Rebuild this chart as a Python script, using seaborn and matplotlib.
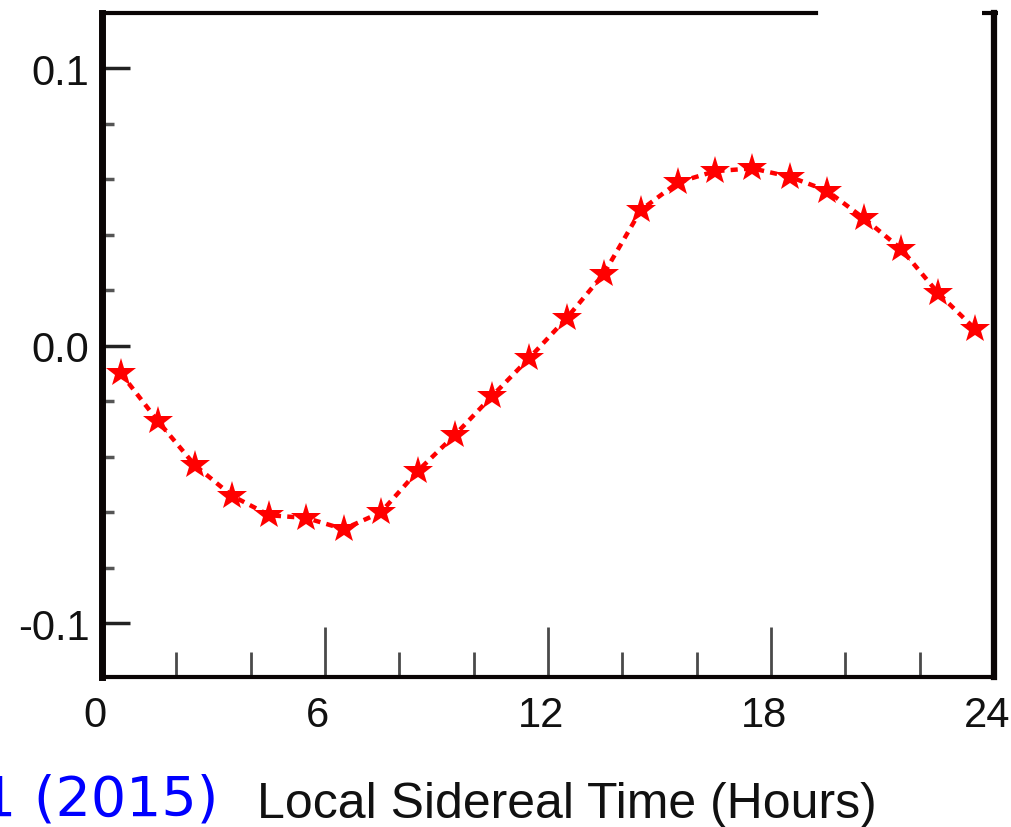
import numpy as np
import pandas as pd
import matplotlib
matplotlib.use("Agg")
import matplotlib.pyplot as plt
import matplotlib.transforms as mtransforms
import seaborn as sns
from matplotlib.ticker import FixedLocator, FixedFormatter

# ---- data ----
hours = [0.5, 1.5, 2.5, 3.5, 4.5, 5.5, 6.5, 7.5, 8.5, 9.5, 10.5, 11.5,
         12.5, 13.5, 14.5, 15.5, 16.5, 17.5, 18.5, 19.5, 20.5, 21.5, 22.5, 23.5]
amplitude = [-0.0097, -0.027, -0.043, -0.054, -0.061, -0.062, -0.066, -0.060,
             -0.045, -0.032, -0.018, -0.0043, 0.010, 0.026, 0.049, 0.059,
             0.063, 0.064, 0.061, 0.056, 0.046, 0.035, 0.019, 0.006]
xtick_values = [0, 6, 12, 18, 24]
xtick_labels = ["0", "6", "12", "18", "24"]
xminor_values = [2, 4, 8, 10, 14, 16, 20, 22]
ytick_values = [-0.1, 0.0, 0.1]
ytick_labels = ["-0.1", "0.0", "0.1"]
yminor_values = [-0.08, -0.06, -0.04, -0.02, 0.02, 0.04, 0.06, 0.08]
xlabel_text = "Local Sidereal Time (Hours)"
caption_text = "1 (2015)"

df = pd.DataFrame({"LST": hours, "amp": amplitude})

sns.set_theme(style="white")
plt.rcParams["font.family"] = ["Liberation Sans", "DejaVu Sans"]

fig = plt.figure(figsize=(10.12, 8.28), dpi=100)
ax = fig.add_axes([102 / 1012, 1 - 678 / 828, 892 / 1012, 664 / 828])

sns.lineplot(data=df, x="LST", y="amp", ax=ax, color="#ff0000",
             linewidth=3.2, linestyle=(0, (1.6, 1.4)),
             marker="*", markersize=22, markeredgewidth=0,
             markerfacecolor="#ff0000")

ax.set_xlim(0, 24)
ax.set_ylim(-0.1193, 0.12)

ax.xaxis.set_major_locator(FixedLocator(xtick_values))
ax.xaxis.set_major_formatter(FixedFormatter(xtick_labels))
ax.xaxis.set_minor_locator(FixedLocator(xminor_values))
ax.yaxis.set_major_locator(FixedLocator(ytick_values))
ax.yaxis.set_major_formatter(FixedFormatter(ytick_labels))
ax.yaxis.set_minor_locator(FixedLocator(yminor_values))

tick_col = "#4a4a4a"
ax.tick_params(axis="x", which="major", direction="in", length=36, width=2,
               color=tick_col, labelsize=30, pad=13, labelcolor="#111111",
               bottom=True, top=False)
ax.tick_params(axis="x", which="minor", direction="in", length=18, width=2,
               color=tick_col, bottom=True, top=False)
ax.tick_params(axis="y", which="major", direction="in", length=20, width=2.5,
               color="#222222", labelsize=30, pad=9, labelcolor="#111111",
               left=True, right=False)
ax.tick_params(axis="y", which="minor", direction="in", length=8.5, width=2.5,
               color="#555555", left=True, right=False)

# tick labels in the reference sit slightly left of their ticks
shift = mtransforms.ScaledTranslation(-7 / 100, 0, fig.dpi_scale_trans)
for lab in ax.get_xticklabels():
    lab.set_transform(lab.get_transform() + shift)

for side, lw in [("left", 5), ("bottom", 3), ("right", 4.5), ("top", 3)]:
    ax.spines[side].set_visible(True)
    ax.spines[side].set_linewidth(lw)
    ax.spines[side].set_color("#0a0505")
ax.spines["top"].set_bounds(0, 19.2)
ax.plot([0.9865, 1.004], [1, 1], transform=ax.transAxes, clip_on=False,
        color="#0a0505", linewidth=3, solid_capstyle="butt")

ax.set_ylabel("")
ax.set_xlabel(xlabel_text, fontsize=36, color="#111111")
ax.xaxis.label.set_va("baseline")
ax.xaxis.set_label_coords((567 - 102) / 892, -(818 - 678) / 664)

fig.text(218 / 1012, 1 - 816 / 828, caption_text, color="#0000ff",
         fontsize=40, family=["DejaVu Sans"], ha="right", va="baseline")

fig.savefig("out.png", dpi=100, facecolor="white")
